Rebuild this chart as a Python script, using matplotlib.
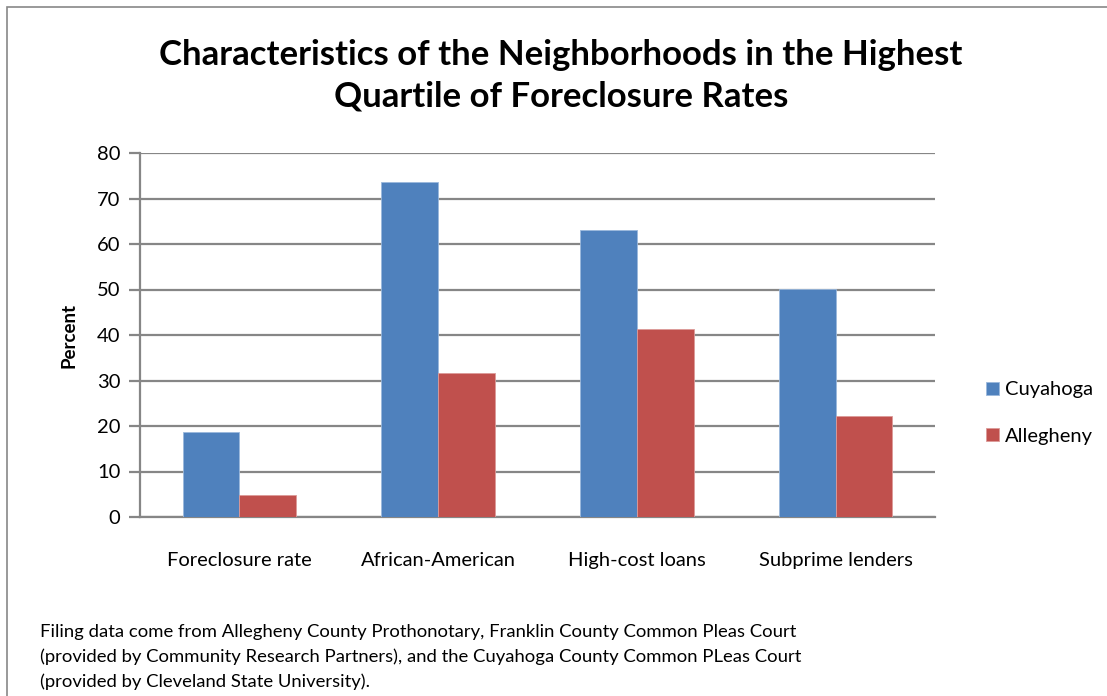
import matplotlib
matplotlib.use("Agg")
import matplotlib.pyplot as plt
import numpy as np
from matplotlib.patches import Rectangle

categories = ["Foreclosure rate", "African-American", "High-cost loans", "Subprime lenders"]
cuyahoga = [18.7, 73.7, 63.0, 50.2]
allegheny = [4.8, 31.6, 41.3, 22.2]
series_names = ["Cuyahoga", "Allegheny"]
yticks = [0, 10, 20, 30, 40, 50, 60, 70, 80]

blue = "#4F81BD"
red = "#C0504D"
grid_col = "#868686"
FONT = ["Lato", "DejaVu Sans"]
plt.rcParams['font.family'] = FONT

W, H = 1107, 696
fig = plt.figure(figsize=(W / 100, H / 100), dpi=100)

# outer border
fig.patches.append(Rectangle((7 / W, -0.01), 1.2, 1 - 7 / H + 0.01, transform=fig.transFigure,
                             fill=False, edgecolor="#888888", lw=1.2))

ax = fig.add_axes([140 / W, 1 - 517 / H, (935 - 140) / W, (517 - 153) / H])
x = np.arange(len(categories))
bw = 1 / 3.5
ax.bar(x - bw / 2, cuyahoga, bw, color=blue, edgecolor="#9BB8DC", linewidth=0.6, label=series_names[0], zorder=3)
ax.bar(x + bw / 2, allegheny, bw, color=red, edgecolor="#DC9A98", linewidth=0.6, label=series_names[1], zorder=3)

ax.set_xlim(-0.5, len(categories) - 0.5)
ax.set_ylim(0, 80)
ax.set_yticks(yticks)
ax.set_yticklabels([str(v) for v in yticks], fontsize=14.5)
ax.yaxis.grid(True, color=grid_col, lw=1.6, zorder=0)
ax.set_axisbelow(True)
ax.tick_params(axis="y", length=8, width=1.6, color=grid_col, pad=6)
ax.tick_params(axis="x", length=0, pad=25)
ax.set_xticks(x)
ax.set_xticklabels(categories, fontsize=14.5)
for s in ["top", "right"]:
    ax.spines[s].set_visible(False)
ax.spines["left"].set_color(grid_col)
ax.spines["left"].set_linewidth(1.6)
ax.spines["bottom"].set_color(grid_col)
ax.spines["bottom"].set_linewidth(1.6)

ax.set_ylabel("Percent", fontsize=13.5, fontweight="bold", labelpad=14)

fig.text(561 / W, 1 - 76 / H, "Characteristics of the Neighborhoods in the Highest\nQuartile of Foreclosure Rates",
         ha="center", va="center", fontsize=25, fontweight="bold", linespacing=1.35)

leg = fig.legend(handles=[ax.containers[0], ax.containers[1]], labels=series_names,
                 loc="center left", bbox_to_anchor=(968 / W, 1 - 413 / H), frameon=False, fontsize=14.5,
                 handlelength=0.65, handleheight=0.65, handletextpad=0.3, labelspacing=1.45)

foot = ("Filing data come from Allegheny County Prothonotary, Franklin County Common Pleas Court\n"
        "(provided by Community Research Partners), and the Cuyahoga County Common PLeas Court\n"
        "(provided by Cleveland State University).")
fig.text(40 / W, 1 - 657 / H, foot, ha="left", va="center", fontsize=13.3, linespacing=1.62)

fig.savefig("out.png", dpi=100)
